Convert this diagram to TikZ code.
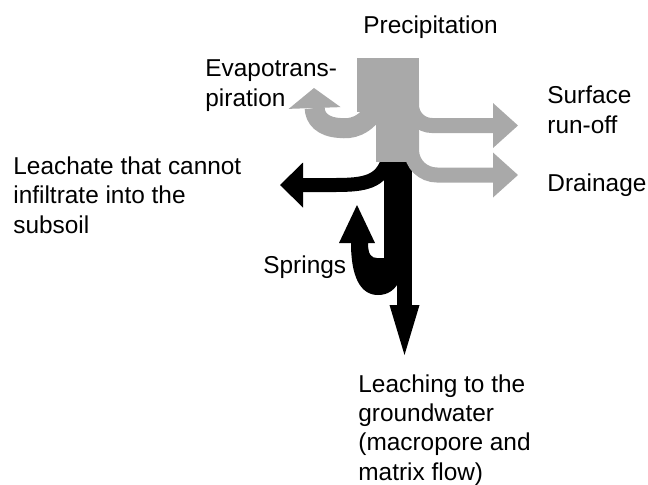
\documentclass[tikz,border=0pt]{standalone}
\usepackage{fontspec}
\setmainfont{Liberation Sans}
\usetikzlibrary{arrows.meta}
\definecolor{wet}{HTML}{A9A9A9}
\definecolor{ink}{HTML}{000000}
\tikzset{
  lbl/.style={anchor=base west,align=left,inner sep=0pt,
    font=\fontsize{12.2}{14.6}\selectfont},
  wetflow/.style={draw=wet,line width=7.5pt,
    -{Triangle[length=12.5pt,width=22.5pt,line width=0pt]}},
  inkflow/.style={draw=ink,line width=7pt,
    -{Triangle[length=11.5pt,width=22.5pt,line width=0pt]}}
}

\begin{document}
\begin{tikzpicture}[x=0.5pt,y=-0.5pt]
  \useasboundingbox (0,0) rectangle (648,484);
  % labels (placed at the baseline of their last line)
  \node[lbl] (prec) at (363,33) {Precipitation};
  \node[lbl] (evap) at (205,106) {Evapotrans-\\piration};
  \node[lbl] (runoff) at (547,133) {Surface\\run-off};
  \node[lbl] (drain) at (547,191) {Drainage};
  \node[lbl] (leach) at (13,233) {Leachate that cannot\\infiltrate into the\\subsoil};
  \node[lbl] (spring) at (263,273) {Springs};
  \node[lbl] (gw) at (358,480) {Leaching to the\\groundwater\\(macropore and\\matrix flow)};
  % ends of the flows
  \coordinate (evaptip) at (314,88);
  \coordinate (runofftip) at (518,125.5);
  \coordinate (draintip) at (518,175);
  \coordinate (leachtip) at (280,185);
  \coordinate (gwtip) at (404.5,355);
  % black part (below the surface)
  \draw[inkflow] (388,160) .. controls (381,182) and (365,185) .. (335,185) -- (leachtip);
  \fill[ink] (384,162) rectangle (412,285);
  \fill[ink] (392,258) -- (377,258) .. controls (371,258) and (368,254) .. (368,243)
    -- (375,243) -- (357,205) -- (339,243) -- (351,243)
    .. controls (351,276) and (360,295) .. (378,295)
    .. controls (388,295) and (395,290) .. (400,280) -- cycle;
  \draw[inkflow,line width=7.5pt,-{Triangle[length=25pt,width=15pt,line width=0pt]}]
    (404.5,270) -- (gwtip);
  % grey part (above the surface)
  \fill[wet] (357,58) rectangle (419,112);
  \fill[wet] (376,58) rectangle (419,162);
  \draw[wetflow,line width=10pt,-{Triangle[length=10pt,width=26pt,line width=0pt]}]
    (378,105) .. controls (365,128) and (350,129) .. (340,128)
    .. controls (322,127) and (315,118) .. (evaptip);
  \draw[wetflow] (411.5,90) -- (411.5,105) .. controls (411.5,116.3) and (420.7,125.5)
    .. (432,125.5) -- (runofftip);
  \draw[wetflow] (411.5,130) -- (411.5,150) .. controls (411.5,164) and (423,175)
    .. (437,175) -- (draintip);
\end{tikzpicture}
\end{document}
